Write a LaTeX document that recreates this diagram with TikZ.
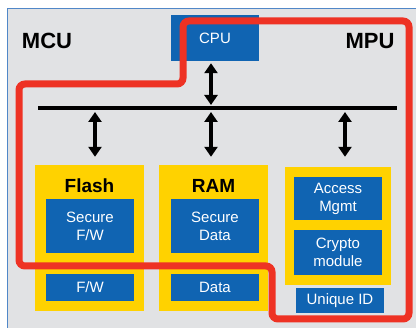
\documentclass[tikz,border=0pt]{standalone}
\usepackage{fontspec}
\setmainfont{Liberation Sans}
\usetikzlibrary{arrows.meta}
\definecolor{bgray}{RGB}{225,226,228}
\definecolor{bblue}{RGB}{16,100,178}
\definecolor{byellow}{RGB}{255,210,0}
\definecolor{bred}{RGB}{238,50,36}
\definecolor{bborder}{RGB}{80,135,200}
\tikzset{
  bluebox/.style={fill=bblue, text=white, inner sep=0pt, align=center, font=\fontsize{15}{18}\selectfont},
  yellowbox/.style={fill=byellow, inner sep=0pt},
  biglabel/.style={font=\fontsize{22}{24}\selectfont\bfseries, inner sep=0pt},
  memlabel/.style={font=\fontsize{19}{21}\selectfont\bfseries, inner sep=0pt},
  dbl/.style={line width=3.5pt, {Triangle[width=13pt,length=10pt]}-{Triangle[width=13pt,length=10pt]}},
  busline/.style={line width=4pt},
  redline/.style={bred, line width=7pt, rounded corners=6pt}
}
\begin{document}
\begin{tikzpicture}[x=1pt,y=-1pt]
\useasboundingbox (0,0) rectangle (416,328);
\clip (0,0) rectangle (416,328);
\fill[white] (0,0) rectangle (416,328);
\filldraw[fill=bgray, draw=bborder, line width=1pt] (7,9) rectangle (430,340);

\node[biglabel] (mcu) at (47,41) {MCU};
\node[biglabel] (mpulbl) at (370,41) {MPU};

\node[bluebox, minimum width=88pt, minimum height=46pt] (cpu) at (215,38) {CPU};

% memory blocks
\node[yellowbox, minimum width=109pt, minimum height=146pt] (flash) at (89.5,238) {};
\node[memlabel] (flashlbl) at (89.5,186) {Flash};
\node[bluebox, minimum width=88pt, minimum height=54pt] (sfw) at (90,226) {Secure\\F/W};
\node[bluebox, minimum width=88pt, minimum height=27pt] (fw) at (90,287.5) {F/W};

\node[yellowbox, minimum width=109pt, minimum height=146pt] (ram) at (213.5,238) {};
\node[memlabel] (ramlbl) at (213.5,186) {RAM};
\node[bluebox, minimum width=88pt, minimum height=54pt] (sdata) at (215,226) {Secure\\Data};
\node[bluebox, minimum width=88pt, minimum height=27pt] (data) at (215,287.5) {Data};

\node[yellowbox, minimum width=106pt, minimum height=118pt] (mpu) at (338,226) {};
\node[bluebox, minimum width=88pt, minimum height=43pt] (acc) at (338,198.5) {Access\\Mgmt};
\node[bluebox, minimum width=88pt, minimum height=45pt] (cry) at (338,252.5) {Crypto\\module};
\node[bluebox, minimum width=88pt, minimum height=25pt] (uid) at (340,300.5) {Unique ID};

% bus
\coordinate (busL) at (38,108);
\coordinate (busR) at (397,108);
\coordinate (bA) at (95,108);
\coordinate (bB) at (211,108);
\coordinate (bC) at (345,108);
\draw[busline] (busL) -- (busR);

\draw[dbl, shorten <=2pt, shorten >=3pt] (cpu.south -| bB) -- (bB);
\draw[dbl, shorten <=4pt, shorten >=8pt] (bA) -- (bA |- flash.north);
\draw[dbl, shorten <=4pt, shorten >=8pt] (bB) -- (bB |- ram.north);
\draw[dbl, shorten <=4pt, shorten >=10pt] (bC) -- (bC |- mpu.north);

% security boundary
\draw[redline] (183,21) -- (409,21) -- (409,319) -- (272,319) -- (272,266) -- (19,266) -- (19,84) -- (183,84) -- cycle;
\end{tikzpicture}
\end{document}
